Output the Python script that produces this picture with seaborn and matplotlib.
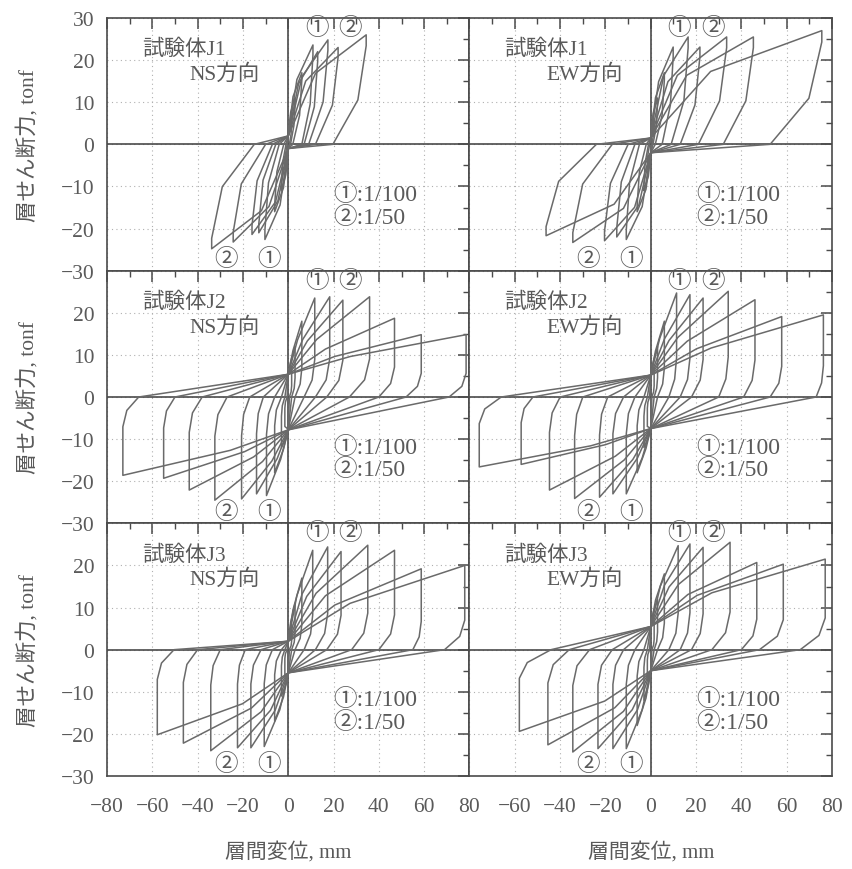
import matplotlib
matplotlib.use("Agg")
import matplotlib.pyplot as plt
from matplotlib.ticker import MultipleLocator
import pandas as pd
import seaborn as sns

# each half cycle: (peak drift mm, peak shear tonf, drift where unloading crosses zero mm)
J1_NS_POS = [(1.5, 6, 0.5), (3, 11, 1), (6, 17, 2), (10.9, 23.6, 6), (13, 22, 7), (17.5, 24.8, 9), (22, 23, 12), (34.4, 26, 19.7)]
J1_NS_NEG = [(-1.5, -6, -0.5), (-3, -11, -1), (-6, -16, -2), (-10.3, -22.6, -4), (-13, -21, -5.5), (-16, -21.4, -7), (-24.3, -23.2, -10), (-33.8, -24.8, -15)]
J1_EW_POS = [(1.5, 6, 0.5), (3, 11, 1), (6, 17, 2), (9.9, 23.1, 5), (16.5, 25.5, 9), (21.7, 23.1, 13), (33.5, 25.5, 21), (45.3, 25.5, 32), (75.5, 27.0, 52.7)]
J1_EW_NEG = [(-1.5, -6, -0.5), (-3, -11, -1), (-6, -16, -2), (-10.8, -22.6, -5), (-15, -22, -7), (-20.4, -22.9, -10), (-34.4, -23.3, -17), (-46.2, -21.7, -24)]
J2_NS_POS = [(1.5, 7, 0.5), (3, 12, 1.5), (6, 18, 3), (11.7, 23.5, 7), (18.3, 23.8, 12), (24.1, 23.0, 17), (35.9, 23.8, 27), (46.9, 18.7, 40), (58.7, 14.8, 52), (78.5, 14.8, 71)]
J2_NS_NEG = [(-1.5, -7, -0.5), (-3, -12, -1.5), (-6, -18, -3), (-9.6, -23.4, -6), (-14, -23, -11), (-20.6, -24.2, -17), (-32.4, -24.5, -27), (-43.7, -22.1, -38), (-55, -19.3, -50), (-73, -18.6, -66)]
J2_EW_POS = [(1.5, 7, 0.5), (3, 12, 1.5), (6, 18, 3), (11.4, 24.7, 8), (17.3, 24.3, 13), (23.1, 23.5, 18), (34.2, 25.1, 30), (46.0, 23.1, 41), (57.8, 19.1, 52.7), (76.2, 19.5, 73)]
J2_EW_NEG = [(-1.5, -7, -0.5), (-3, -12, -1.5), (-6, -18, -3), (-10.8, -23, -7), (-16.7, -23, -12), (-22.6, -23.8, -19), (-33.6, -24.1, -30), (-44.7, -22.1, -40), (-57.2, -16.0, -52), (-75.7, -16.6, -66)]
J3_NS_POS = [(1.5, 6, 0.5), (3, 11, 1.5), (6, 17, 3), (10.8, 23.6, 7), (17.4, 24.4, 12), (23.3, 23.3, 17), (35.1, 24.8, 28), (46.9, 23.6, 40), (58.7, 19.2, 55), (77.9, 20.0, 69)]
J3_NS_NEG = [(-1.5, -6, -0.5), (-3, -11, -1.5), (-6, -17, -3), (-10.6, -23, -7), (-16.5, -23.3, -12), (-22.4, -23.3, -19), (-34.2, -24, -30), (-46.3, -22.2, -40), (-57.8, -20.2, -50.4)]
J3_EW_POS = [(1.5, 7, 0.5), (3, 12, 1.5), (6, 18, 3), (12.1, 24.7, 8), (17.3, 25.1, 13), (23.1, 24.3, 18), (35.0, 25.5, 27), (46.8, 20.7, 40), (58.5, 20.3, 48), (77.0, 21.5, 66)]
J3_EW_NEG = [(-1.5, -7, -0.5), (-3, -12, -1.5), (-6, -18, -3), (-10.8, -23.5, -7), (-16.7, -23.5, -12), (-23.3, -23.5, -17), (-34.4, -24.3, -27), (-45.4, -22.6, -36), (-58, -19.4, -44)]

# shear at zero drift on the slip branch (towards +, towards -)
PINCH = {"J1NS": (2, -1), "J1EW": (1.5, -2), "J2NS": (5.4, -7.8),
         "J2EW": (5.2, -7.5), "J3NS": (2, -5.5), "J3EW": (5.5, -5)}

SPECIMENS = ["J1", "J2", "J3"]
DIRECTIONS = ["NS", "EW"]
LOOPS = {"J1NS": (J1_NS_POS, J1_NS_NEG), "J1EW": (J1_EW_POS, J1_EW_NEG),
         "J2NS": (J2_NS_POS, J2_NS_NEG), "J2EW": (J2_EW_POS, J2_EW_NEG),
         "J3NS": (J3_NS_POS, J3_NS_NEG), "J3EW": (J3_EW_POS, J3_EW_NEG)}

X_TICKS = [-80, -60, -40, -20, 0, 20, 40, 60, 80]
Y_TICKS = [-30, -20, -10, 0, 10, 20, 30]

# loop shape per specimen: how full the loading branch is, where the unloading drop stops
SHAPE = {"J1": (0.62, 0.9), "J2": (0.45, 0.38), "J3": (0.5, 0.35)}

LINE = "#6a6a6a"
TEXT = "#5a5a5a"
DARK = "#4a4a4a"


def half_cycle(dp, fp, dz, f_start, f_end, knee, drop):
    return [(0, f_start), (0.35 * dp, f_start + (fp - f_start) * knee), (dp, fp),
            (dp, drop * fp), (dp - 0.25 * (dp - dz), 0.45 * drop * fp), (dz, 0), (0, f_end)]


def label(v):
    return str(v).replace("-", "\u2212")


rows = []
for key, (pos, neg) in LOOPS.items():
    knee, drop = SHAPE[key[:2]]
    pp, pn = PINCH[key]
    unit = 0
    for i in range(max(len(pos), len(neg))):
        if i < len(pos):
            for d, f in half_cycle(*pos[i], pp, pn, knee, drop):
                rows.append((key, unit, d, f))
            unit += 1
        if i < len(neg):
            for d, f in half_cycle(*neg[i], pn, pp, knee, drop):
                rows.append((key, unit, d, f))
            unit += 1
df = pd.DataFrame(rows, columns=["panel", "unit", "d", "f"])

sns.set_style("white")
plt.rcParams["font.family"] = ["Liberation Serif", "Noto Sans CJK JP"]
plt.rcParams["text.color"] = TEXT

fig, axes = plt.subplots(3, 2, figsize=(8.53, 8.70), dpi=100)
fig.subplots_adjust(left=107 / 853, right=832 / 853, top=1 - 19 / 870,
                    bottom=1 - 777 / 870, wspace=0, hspace=0)

for r, spec in enumerate(SPECIMENS):
    for c, dirn in enumerate(DIRECTIONS):
        ax = axes[r, c]
        key = spec + dirn
        ax.grid(True, which="major", ls=(0, (1, 3)), color="#b0b0b0", lw=0.8)
        ax.axhline(0, color=DARK, lw=1.2, zorder=1)
        ax.axvline(0, color=DARK, lw=1.2, zorder=1)
        sns.lineplot(data=df[df.panel == key], x="d", y="f", units="unit",
                     estimator=None, sort=False, color=LINE, linewidth=1.1,
                     ax=ax, legend=False, zorder=3)
        ax.set_xlim(-80, 80)
        ax.set_ylim(-30, 30)
        ax.set_xticks(X_TICKS)
        ax.set_yticks(Y_TICKS)
        ax.xaxis.set_minor_locator(MultipleLocator(10))
        ax.yaxis.set_minor_locator(MultipleLocator(5))
        ax.tick_params(which="both", direction="in", top=True, right=True,
                       color=DARK, labelcolor=TEXT, labelsize=15.5)
        ax.tick_params(which="major", length=8, width=1.1)
        ax.tick_params(which="minor", length=4.5, width=1.0)
        ax.tick_params(axis="x", pad=15)
        ax.tick_params(axis="y", pad=9)
        for s in ax.spines.values():
            s.set_color(DARK)
            s.set_linewidth(1.2)
        ax.set_xlabel("")
        ax.set_ylabel("")

        if r == 2:
            ax.set_xticklabels(["" if (c == 1 and v == -80) else label(v) for v in X_TICKS])
            ax.set_xlabel("層間変位, mm", fontsize=15, color=TEXT, labelpad=18)
        else:
            ax.set_xticklabels([])
        if c == 0:
            ax.set_yticklabels(["" if (r > 0 and v == 30) else label(v) for v in Y_TICKS])
            ax.set_ylabel("層せん断力, tonf", fontsize=15.5, color=TEXT, labelpad=16)
        else:
            ax.set_yticklabels([])

        ax.text(-64.5, 22.6, "試験体" + spec, fontsize=15.5, ha="left", va="center")
        ax.text(-12.5, 16.8, dirn + "方向", fontsize=15.5, ha="right", va="center")
        ax.text(20, -11.8, "①:1/100", fontsize=17, ha="left", va="center")
        ax.text(20, -17.2, "②:1/50", fontsize=17, ha="left", va="center")
        ax.text(12.5, 27.6, "①", fontsize=17, ha="center", va="center")
        ax.text(27.5, 27.6, "②", fontsize=17, ha="center", va="center")
        ax.text(-27.5, -27.2, "②", fontsize=17, ha="center", va="center")
        ax.text(-8.5, -27.2, "①", fontsize=17, ha="center", va="center")

fig.savefig("out.png", dpi=100)
